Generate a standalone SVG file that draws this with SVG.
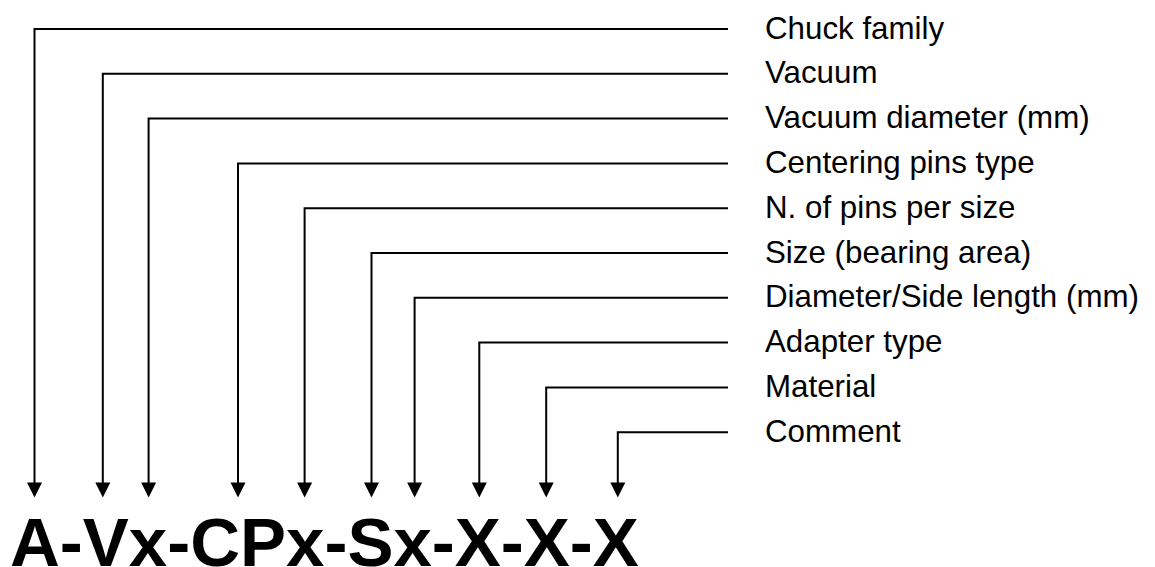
<svg xmlns="http://www.w3.org/2000/svg" width="1155" height="567" viewBox="0 0 1155 567">
<style>
.c{fill:none;stroke:#000;stroke-width:2}
.a{fill:#000}
.l{font-family:"Liberation Sans",Arial,sans-serif;font-size:31.3px;fill:#000}
.code{font-family:"Liberation Sans",Arial,sans-serif;font-size:69px;font-weight:bold;fill:#000}
</style>
<defs>
<polygon id="ah" points="-7.5,0 7.5,0 0,15" class="a"/>
</defs>
<g id="connectors">
<polyline class="c" points="728,29 34.5,29 34.5,484"/>
<polyline class="c" points="728,73.8 102.8,73.8 102.8,484"/>
<polyline class="c" points="728,118.6 148.6,118.6 148.6,484"/>
<polyline class="c" points="728,163.4 238,163.4 238,484"/>
<polyline class="c" points="728,208.2 304.6,208.2 304.6,484"/>
<polyline class="c" points="728,253 371.5,253 371.5,484"/>
<polyline class="c" points="728,297.8 414.6,297.8 414.6,484"/>
<polyline class="c" points="728,342.6 479.3,342.6 479.3,484"/>
<polyline class="c" points="728,387.4 546.2,387.4 546.2,484"/>
<polyline class="c" points="728,432.2 617.8,432.2 617.8,484"/>
<use href="#ah" x="34.5" y="482.5"/>
<use href="#ah" x="102.8" y="482.5"/>
<use href="#ah" x="148.6" y="482.5"/>
<use href="#ah" x="238" y="482.5"/>
<use href="#ah" x="304.6" y="482.5"/>
<use href="#ah" x="371.5" y="482.5"/>
<use href="#ah" x="414.6" y="482.5"/>
<use href="#ah" x="479.3" y="482.5"/>
<use href="#ah" x="546.2" y="482.5"/>
<use href="#ah" x="617.8" y="482.5"/>
</g>
<g id="label-chuck-family"><text class="l" x="765" y="38.5">Chuck family</text></g>
<g id="label-vacuum"><text class="l" x="765" y="83.3">Vacuum</text></g>
<g id="label-vacuum-diameter"><text class="l" x="765" y="128.1">Vacuum diameter (mm)</text></g>
<g id="label-centering-pins"><text class="l" x="765" y="172.9">Centering pins type</text></g>
<g id="label-pins-per-size"><text class="l" x="765" y="217.7">N. of pins per size</text></g>
<g id="label-size"><text class="l" x="765" y="262.5">Size (bearing area)</text></g>
<g id="label-diameter-side"><text class="l" x="765" y="307.3">Diameter/Side length (mm)</text></g>
<g id="label-adapter"><text class="l" x="765" y="352.1">Adapter type</text></g>
<g id="label-material"><text class="l" x="765" y="396.9">Material</text></g>
<g id="label-comment"><text class="l" x="765" y="441.7">Comment</text></g>
<g id="code"><text class="code" x="10" y="565.5">A-Vx-CPx-Sx-X-X-X</text></g>
</svg>
